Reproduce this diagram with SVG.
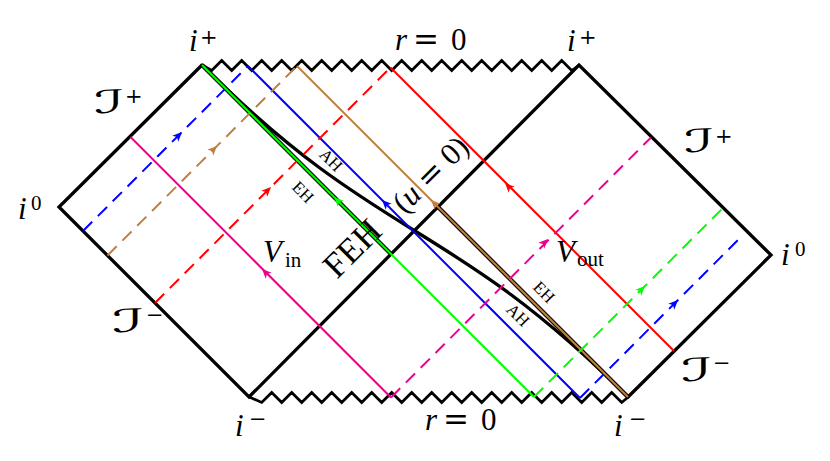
<svg xmlns="http://www.w3.org/2000/svg" xmlns:xlink="http://www.w3.org/1999/xlink" width="830" height="461" viewBox="0 0 830 461">
<style>
.frame{fill:none;stroke:#000;stroke-width:3.3;stroke-linejoin:miter;stroke-linecap:round}
.zz{fill:none;stroke:#000;stroke-width:2.7;stroke-linejoin:miter}
.eh{fill:none;stroke:#000;stroke-width:4.2}
.ah{fill:none;stroke:#000;stroke-width:3.3}
.ln{fill:none;stroke-width:2}
.ds{stroke-dasharray:13 8}
.t{font-family:"Liberation Serif","Times New Roman",serif;font-size:31px;fill:#000}
.i{font-style:italic}
.op{font-family:"DejaVu Serif",serif}
.sup{font-family:"DejaVu Serif",serif;font-size:21px}
.sub{font-size:21px}
.scr{font-family:"DejaVu Serif","DejaVu Sans",serif;font-style:italic;font-size:32px}
.big{font-size:35px}
.small{font-family:"Liberation Serif","Times New Roman",serif;font-size:17px;fill:#000}
</style>
<defs>
<path id="ah" d="M0,0 L-9.5,-4.2 L-7,0 L-9.5,4.2 Z"/>
</defs>

<g id="frame">
<path class="frame" d="M202,65 L59,207 L249,397 L579,65 L771,255 L628,397"/>
<polyline id="sing-top" class="zz" points="202,65 211.7,70.5 221.7,60.5 231.7,70.5 241.7,60.5 251.7,70.5 261.7,60.5 271.7,70.5 281.7,60.5 291.7,70.5 301.7,60.5 311.7,70.5 321.7,60.5 331.7,70.5 341.7,60.5 351.7,70.5 361.7,60.5 371.7,70.5 381.7,60.5 391.7,70.5 401.7,60.5 411.7,70.5 421.7,60.5 431.7,70.5 441.7,60.5 451.7,70.5 461.7,60.5 471.7,70.5 481.7,60.5 491.7,70.5 501.7,60.5 511.7,70.5 521.7,60.5 531.7,70.5 541.7,60.5 551.7,70.5 561.7,60.5 571.7,70.5 579.3,65"/>
<polyline id="sing-bot" class="zz" points="249.3,397 261.7,402.5 271.7,392.5 281.7,402.5 291.7,392.5 301.7,402.5 311.7,392.5 321.7,402.5 331.7,392.5 341.7,402.5 351.7,392.5 361.7,402.5 371.7,392.5 381.7,402.5 391.7,392.5 401.7,402.5 411.7,392.5 421.7,402.5 431.7,392.5 441.7,402.5 451.7,392.5 461.7,402.5 471.7,392.5 481.7,402.5 491.7,392.5 501.7,402.5 511.7,392.5 521.7,402.5 531.7,392.5 541.7,402.5 551.7,392.5 561.7,402.5 571.7,392.5 581.7,402.5 591.7,392.5 601.7,402.5 611.7,392.5 621.7,402.5 628.3,397"/>
</g>

<g id="horizons">
<path class="eh" d="M202,65 L391.5,254.5"/>
<path class="eh" d="M438.5,207.5 L628,397"/>
<path class="ah" d="M202,65 C382,245 448,217 628,397"/>
</g>

<g id="connectors">
<g stroke="#0000ff" fill="#0000ff">
<path class="ln ds" d="M83,231 L248,66"/>
<path class="ln" d="M248,66 L580,398"/>
<path class="ln ds" d="M580,398 L743,235"/>
<use xlink:href="#ah" stroke="none" transform="translate(182,132) rotate(-45)"/>
<use xlink:href="#ah" stroke="none" transform="translate(382,200) rotate(-135)"/>
<use xlink:href="#ah" stroke="none" transform="translate(678,300) rotate(-45)"/>
</g>
<g stroke="#bf8040" fill="#bf8040">
<path class="ln ds" d="M107.5,255.5 L297,66"/>
<path class="ln" d="M297,66 L628,397"/>
<use xlink:href="#ah" stroke="none" transform="translate(217,146) rotate(-45)"/>
<use xlink:href="#ah" stroke="none" transform="translate(431,200) rotate(-135)"/>
</g>
<g stroke="#ff0000" fill="#ff0000">
<path class="ln ds" d="M155,303 L390.5,67.5"/>
<path class="ln" d="M390.5,67.5 L674,351"/>
<use xlink:href="#ah" stroke="none" transform="translate(271,187) rotate(-45)"/>
<use xlink:href="#ah" stroke="none" transform="translate(505,183) rotate(-135)"/>
</g>
<g stroke="#ec008c" fill="#ec008c">
<path class="ln" d="M130.5,137 L391,397.5"/>
<path class="ln ds" d="M391,397.5 L651,137.5"/>
<use xlink:href="#ah" stroke="none" transform="translate(262,269) rotate(-135)"/>
<use xlink:href="#ah" stroke="none" transform="translate(548,239) rotate(-45)"/>
</g>
<g stroke="#00ff00" fill="#00ff00">
<path class="ln" d="M202,65 L534,397"/>
<path class="ln ds" d="M534,397 L722,209"/>
<use xlink:href="#ah" stroke="none" transform="translate(334,197) rotate(-135)"/>
<use xlink:href="#ah" stroke="none" transform="translate(645,286) rotate(-45)"/>
</g>
</g>

<g id="labels">
<g id="iplus-left"><text class="t i" x="189" y="51">i</text><text class="sup" x="200" y="44">+</text></g>
<g id="r0-top"><text class="t i" x="395" y="50">r</text><text class="t op" x="413" y="50">=</text><text class="t" x="451" y="50">0</text></g>
<g id="iplus-right"><text class="t i" x="567" y="51">i</text><text class="sup" x="579" y="44">+</text></g>
<g id="scri-plus-left"><text class="scr" x="94" y="113" textLength="30" lengthAdjust="spacingAndGlyphs">ℐ</text><text class="sup" x="125" y="103">+</text></g>
<g id="i0-left"><text class="t i" x="18" y="219">i</text><text class="t sub" x="31" y="210">0</text></g>
<g id="scri-minus-left"><text class="scr" x="112" y="332" textLength="32" lengthAdjust="spacingAndGlyphs">ℐ</text><text class="sup" x="146" y="322">−</text></g>
<g id="iminus-left"><text class="t i" x="235" y="436">i</text><text class="sup" x="249" y="426">−</text></g>
<g id="vin"><text class="t i" x="263" y="262" font-size="33">V</text><text class="t sub" x="285" y="267">in</text></g>
<g id="r0-bot"><text class="t i" x="425" y="430">r</text><text class="t op" x="443" y="430">=</text><text class="t" x="481" y="430">0</text></g>
<g id="iminus-right"><text class="t i" x="614" y="436">i</text><text class="sup" x="629" y="426">−</text></g>
<g id="scri-plus-right"><text class="scr" x="684" y="152" textLength="30" lengthAdjust="spacingAndGlyphs">ℐ</text><text class="sup" x="715" y="143">+</text></g>
<g id="i0-right"><text class="t i" x="781" y="265">i</text><text class="t sub" x="795" y="256">0</text></g>
<g id="scri-minus-right"><text class="scr" x="681" y="381" textLength="31" lengthAdjust="spacingAndGlyphs">ℐ</text><text class="sup" x="713" y="370">−</text></g>
<g id="vout"><text class="t i" x="556" y="262" font-size="33">V</text><text class="t sub" x="577" y="266">out</text></g>
<g id="feh"><text class="t big" transform="translate(352,248) rotate(-45)" text-anchor="middle" dy="0.34em">FEH</text><text class="t" transform="translate(431,175) rotate(-45)" text-anchor="middle" dy="0.3em">(<tspan class="i">u</tspan> <tspan class="op">=</tspan> 0)</text></g>
<text class="small" transform="translate(331,160) rotate(45)" text-anchor="middle" dy="0.34em">AH</text>
<text class="small" transform="translate(303,192) rotate(45)" text-anchor="middle" dy="0.34em">EH</text>
<text class="small" transform="translate(544,292) rotate(45)" text-anchor="middle" dy="0.34em">EH</text>
<text class="small" transform="translate(518,315) rotate(45)" text-anchor="middle" dy="0.34em">AH</text>
</g>
</svg>
